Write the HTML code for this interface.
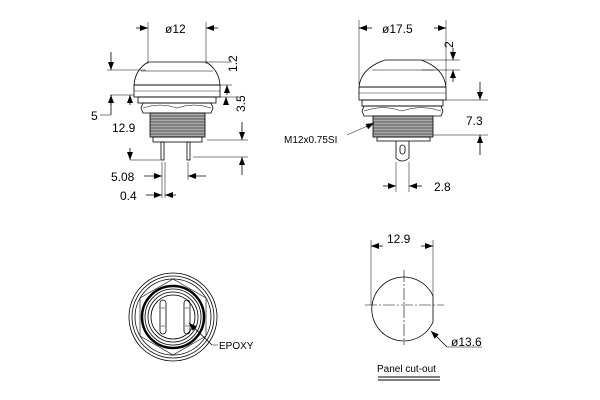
<!DOCTYPE html>
<html><head><meta charset="utf-8"><style>
html,body{margin:0;padding:0;background:#fff;}
svg{display:block;font-family:"Liberation Sans",sans-serif;}
</style></head><body>
<svg width="600" height="400" viewBox="0 0 600 400" xmlns="http://www.w3.org/2000/svg">
<defs>
<marker id="a" markerWidth="8" markerHeight="6" refX="8" refY="3" orient="auto" markerUnits="userSpaceOnUse"><path d="M0,0 L8,3 L0,6z" fill="#000"/></marker>
</defs>
<g stroke="#000" fill="none" stroke-width="0.8">
<line x1="148" y1="22" x2="148" y2="64" stroke-width="0.5"/>
<line x1="206" y1="22" x2="206" y2="64" stroke-width="0.5"/>
<line x1="136" y1="28" x2="148" y2="28" marker-end="url(#a)"/>
<line x1="218" y1="28" x2="206" y2="28" marker-end="url(#a)"/>
<path d="M148,62 L206,62 Q219,70 220,85 L134,85 Q135,70 148,62z"/>
<line x1="141" y1="71" x2="213" y2="71" stroke-width="0.5"/>
<rect x="134" y="85" width="86" height="12"/>
<line x1="134" y1="91" x2="220" y2="91" stroke-width="0.4"/>
<rect x="138" y="97" width="78" height="6"/>
<path d="M143,103 L211,103 L213,108 L211,113 L143,113 L141,108z"/>
<path d="M143,108 Q160,102 177,108 Q194,102 211,108" stroke-width="0.5"/>
<rect x="150" y="113" width="55" height="24" fill="#aaa"/>
<g stroke-width="0.5"><line x1="150" y1="116" x2="205" y2="116"/><line x1="150" y1="119" x2="205" y2="119"/><line x1="150" y1="122" x2="205" y2="122"/><line x1="150" y1="125" x2="205" y2="125"/><line x1="150" y1="128" x2="205" y2="128"/><line x1="150" y1="131" x2="205" y2="131"/><line x1="150" y1="134" x2="205" y2="134"/></g>
<rect x="153" y="137" width="49" height="5"/>
<rect x="161" y="142" width="3" height="18"/>
<rect x="187" y="142" width="3" height="18"/>
<line x1="107" y1="70" x2="146" y2="70" stroke-width="0.5"/>
<line x1="111" y1="52" x2="111" y2="70" marker-end="url(#a)"/>
<line x1="206" y1="62" x2="232" y2="62" stroke-width="0.5"/>
<line x1="210" y1="85" x2="232" y2="85" stroke-width="0.5"/>
<line x1="227" y1="95" x2="227" y2="85" marker-end="url(#a)"/>
<line x1="216" y1="97" x2="240" y2="97" stroke-width="0.5"/>
<line x1="226" y1="103" x2="226" y2="97" marker-end="url(#a)"/>
<line x1="207" y1="140" x2="248" y2="140" stroke-width="0.5"/>
<line x1="242" y1="122" x2="242" y2="140" marker-end="url(#a)"/>
<line x1="193" y1="157" x2="248" y2="157" stroke-width="0.5"/>
<line x1="242" y1="175" x2="242" y2="157" marker-end="url(#a)"/>
<line x1="100" y1="115" x2="111" y2="115" stroke-width="0.5"/>
<line x1="111" y1="115" x2="111" y2="95"/>
<line x1="111" y1="105" x2="111" y2="95" marker-end="url(#a)"/>
<line x1="110" y1="95" x2="134" y2="95" stroke-width="0.5"/>
<line x1="130" y1="160" x2="160" y2="160" stroke-width="0.5"/>
<line x1="130" y1="105" x2="130" y2="95" marker-end="url(#a)"/>
<line x1="130" y1="148" x2="130" y2="160" marker-end="url(#a)"/>
<line x1="162" y1="162" x2="162" y2="198" stroke-width="0.5"/>
<line x1="165" y1="162" x2="165" y2="198" stroke-width="0.5"/>
<line x1="188" y1="162" x2="188" y2="180" stroke-width="0.5"/>
<line x1="144" y1="176" x2="162" y2="176" marker-end="url(#a)"/>
<line x1="206" y1="176" x2="188" y2="176" marker-end="url(#a)"/>
<line x1="146" y1="195" x2="162" y2="195" marker-end="url(#a)"/>
<line x1="176" y1="195" x2="165" y2="195" marker-end="url(#a)"/>

<line x1="359" y1="20" x2="359" y2="85" stroke-width="0.5"/>
<line x1="446" y1="20" x2="446" y2="85" stroke-width="0.5"/>
<line x1="372" y1="28" x2="359" y2="28" marker-end="url(#a)"/>
<line x1="434" y1="28" x2="446" y2="28" marker-end="url(#a)"/>
<path d="M385,60 L421,60 Q444,68 446,87 L359,87 Q361,68 385,60z"/>
<line x1="372" y1="70" x2="434" y2="70" stroke-width="0.5"/>
<rect x="359" y="87" width="87" height="13"/>
<line x1="359" y1="93" x2="446" y2="93" stroke-width="0.4"/>
<rect x="362" y="100" width="81" height="6"/>
<path d="M364,106 L441,106 L443,111 L441,116 L364,116 L362,111z"/>
<path d="M364,111 Q383,104 402,111 Q421,104 441,111" stroke-width="0.5"/>
<rect x="373" y="116" width="60" height="21" fill="#aaa"/>
<g stroke-width="0.6"><line x1="373" y1="119" x2="433" y2="119"/><line x1="373" y1="122" x2="433" y2="122"/><line x1="373" y1="125" x2="433" y2="125"/><line x1="373" y1="128" x2="433" y2="128"/><line x1="373" y1="131" x2="433" y2="131"/><line x1="373" y1="134" x2="433" y2="134"/></g>
<rect x="377" y="137" width="53" height="4"/>
<path d="M396,141 L396,158 Q402,164 409,158 L409,141"/>
<rect x="400" y="145" width="5" height="9" rx="2.5"/>
<line x1="421" y1="60" x2="460" y2="60" stroke-width="0.5"/>
<line x1="422" y1="70" x2="460" y2="70" stroke-width="0.5"/>
<line x1="453" y1="48" x2="453" y2="60" marker-end="url(#a)"/>
<line x1="453" y1="82" x2="453" y2="70" marker-end="url(#a)"/>
<line x1="446" y1="100" x2="488" y2="100" stroke-width="0.5"/>
<line x1="433" y1="135" x2="488" y2="135" stroke-width="0.5"/>
<line x1="480" y1="82" x2="480" y2="100" marker-end="url(#a)"/>
<line x1="480" y1="155" x2="480" y2="135" marker-end="url(#a)"/>
<line x1="347" y1="135" x2="372" y2="124" stroke-width="0.5"/>
<line x1="366" y1="127" x2="374" y2="123" marker-end="url(#a)"/>
<line x1="396" y1="162" x2="396" y2="192" stroke-width="0.5"/>
<line x1="409" y1="162" x2="409" y2="192" stroke-width="0.5"/>
<line x1="383" y1="186" x2="396" y2="186" marker-end="url(#a)"/>
<line x1="422" y1="186" x2="409" y2="186" marker-end="url(#a)"/>

<circle cx="173" cy="317" r="44"/>
<circle cx="173" cy="317" r="41"/>
<circle cx="173" cy="317" r="38"/>
<path d="M173,279 L206,298 L206,336 L173,355 L140,336 L140,298z" stroke-width="0.6"/>
<circle cx="173" cy="317" r="31" stroke-width="2.5"/>
<circle cx="173" cy="317" r="28"/>
<circle cx="173" cy="317" r="25"/>
<circle cx="173" cy="317" r="22"/>
<rect x="160" y="300" width="6" height="34" rx="3"/>
<rect x="184" y="300" width="6" height="34" rx="3"/>
<line x1="161" y1="308" x2="165" y2="308" stroke-width="0.5"/><line x1="161" y1="326" x2="165" y2="326" stroke-width="0.5"/>
<line x1="185" y1="308" x2="189" y2="308" stroke-width="0.5"/><line x1="185" y1="326" x2="189" y2="326" stroke-width="0.5"/>
<line x1="218" y1="345" x2="212" y2="345" stroke-width="0.5"/>
<line x1="212" y1="345" x2="189" y2="323" marker-end="url(#a)"/>

<line x1="371" y1="240" x2="371" y2="305" stroke-width="0.5"/>
<line x1="433" y1="240" x2="433" y2="296" stroke-width="0.5"/>
<line x1="383" y1="246" x2="371" y2="246" marker-end="url(#a)"/>
<line x1="421" y1="246" x2="433" y2="246" marker-end="url(#a)"/>
<path d="M433,296 A32,32 0 1,0 433,322 Z"/>
<line x1="365" y1="305" x2="444" y2="305" stroke-width="0.6" stroke-dasharray="12,2,2,2"/>
<line x1="404" y1="270" x2="404" y2="345" stroke-width="0.6" stroke-dasharray="12,2,2,2"/>
<line x1="482" y1="347" x2="447" y2="347" stroke-width="0.5"/>
<line x1="447" y1="347" x2="431" y2="331" marker-end="url(#a)"/>
<line x1="378" y1="377" x2="440" y2="377" stroke-width="1"/>
<line x1="378" y1="380" x2="440" y2="380" stroke-width="1"/>
</g>
<g font-size="12" fill="#000">
<text x="165" y="33">ø12</text>
<text x="237" y="72" transform="rotate(-90 237 72)">1.2</text>
<text x="245" y="112" transform="rotate(-90 245 112)">3.5</text>
<text x="91" y="120">5</text>
<text x="112" y="132">12.9</text>
<text x="111" y="181">5.08</text>
<text x="120" y="200">0.4</text>
<text x="382" y="33">ø17.5</text>
<text x="453" y="48" transform="rotate(-90 453 48)">2</text>
<text x="466" y="125">7.3</text>
<text x="434" y="191">2.8</text>
<text x="387" y="243">12.9</text>
<text x="451" y="346">ø13.6</text>
</g>
<g font-size="10" fill="#000">
<text x="284" y="143">M12x0.75SI</text>
<text x="219" y="349">EPOXY</text>
<text x="377" y="372">Panel cut-out</text>
</g>
</svg>
</body></html>
